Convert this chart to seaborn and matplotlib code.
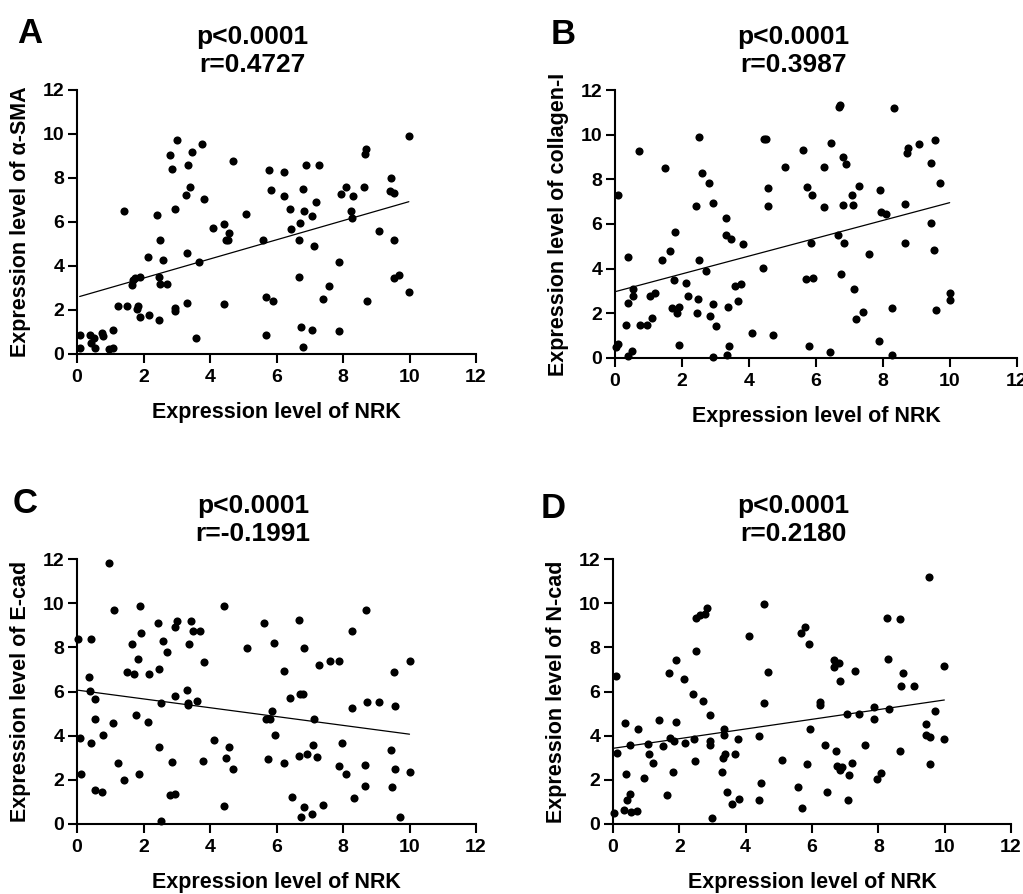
import matplotlib
matplotlib.use("Agg")
import matplotlib.pyplot as plt
import seaborn as sns

# Panel A: NRK vs alpha-SMA
a_x = [3.01, 3.77, 2.79, 3.46, 2.85, 3.35, 4.68, 5.78, 5.84, 3.39,
       3.29, 3.81, 2.94, 1.40, 2.42, 5.08, 4.09, 4.42, 4.57, 4.47,
       4.55, 5.58, 2.51, 2.14, 2.59, 3.31, 3.66, 1.68, 1.75, 1.90,
       1.64, 2.47, 2.51, 2.71, 1.22, 1.50, 1.84, 1.80, 1.89, 2.18,
       2.46, 2.94, 2.94, 3.32, 4.42, 5.69, 5.89, 3.59, 5.69, 0.08,
       0.38, 0.50, 0.75, 0.77, 1.08, 0.10, 0.42, 0.55, 0.95, 1.08,
       9.98, 8.69, 8.66, 6.23, 6.90, 7.28, 9.45, 6.79, 6.23, 8.09,
       7.94, 8.31, 8.64, 9.41, 9.54, 6.42, 6.82, 7.20, 7.06, 6.71,
       6.45, 8.25, 8.27, 6.68, 7.13, 9.07, 9.52, 7.88, 6.68, 7.58,
       7.39, 9.54, 9.69, 9.98, 8.72, 6.73, 7.08, 7.87, 6.81]
a_y = [9.73, 9.56, 9.04, 9.16, 8.42, 8.59, 8.78, 8.38, 7.47, 7.58,
       7.25, 7.04, 6.57, 6.50, 6.32, 6.38, 5.74, 5.92, 5.49, 5.19,
       5.17, 5.17, 5.19, 4.39, 4.29, 4.57, 4.20, 3.38, 3.46, 3.49,
       3.13, 3.52, 3.20, 3.19, 2.18, 2.18, 2.20, 2.06, 1.68, 1.79,
       1.53, 2.09, 1.95, 2.30, 2.29, 2.59, 2.41, 0.74, 0.86, 0.86,
       0.86, 0.75, 0.96, 0.81, 1.08, 0.26, 0.48, 0.26, 0.21, 0.26,
       9.91, 9.34, 9.08, 8.29, 8.57, 8.57, 8.00, 7.49, 7.17, 7.59,
       7.28, 7.17, 7.61, 7.40, 7.34, 6.59, 6.50, 6.92, 6.29, 5.97,
       5.67, 6.50, 6.20, 5.17, 4.90, 5.59, 5.17, 4.17, 3.49, 3.08,
       2.48, 3.44, 3.61, 2.83, 2.39, 1.22, 1.07, 1.05, 0.32]

# Panel B: NRK vs collagen-I
b_x = [2.52, 0.73, 1.49, 2.59, 2.80, 0.08, 2.41, 2.94, 3.30, 3.30,
       3.46, 3.82, 1.79, 1.64, 1.39, 0.40, 2.52, 2.71, 4.45, 4.50,
       5.08, 5.60, 4.56, 4.57, 5.72, 5.87, 5.85, 4.43, 5.70, 5.92,
       5.80, 0.54, 0.55, 0.40, 1.05, 1.19, 0.32, 0.75, 0.96, 1.09,
       1.75, 2.13, 2.18, 1.69, 1.91, 1.84, 2.47, 2.45, 2.85, 2.94,
       3.01, 3.36, 3.58, 3.76, 3.66, 4.09, 4.71, 0.10, 0.02, 0.38,
       0.52, 1.90, 2.94, 3.33, 3.40,
       6.69, 6.72, 8.32, 6.46, 6.80, 6.91, 6.24, 8.74, 8.71, 9.08,
       9.55, 9.43, 9.71, 7.28, 7.07, 6.81, 7.09, 6.24, 7.90, 7.94,
       8.10, 8.65, 9.44, 6.67, 6.83, 7.59, 8.65, 9.52, 6.74, 7.12,
       7.40, 7.19, 8.26, 9.57, 9.99, 9.99, 7.88, 8.27, 6.41]
b_y = [9.88, 9.27, 8.52, 8.27, 7.85, 7.28, 6.82, 6.92, 6.28, 5.49,
       5.34, 5.11, 5.65, 4.78, 4.39, 4.51, 4.39, 3.89, 9.82, 9.82,
       8.57, 9.31, 7.62, 6.79, 7.67, 7.29, 5.17, 4.05, 3.54, 3.60,
       0.55, 3.08, 2.77, 2.48, 2.77, 2.93, 1.46, 1.46, 1.46, 1.79,
       3.48, 3.35, 2.77, 2.26, 2.29, 2.03, 2.63, 2.03, 1.88, 2.44,
       1.45, 2.30, 3.24, 3.30, 2.56, 1.14, 1.05, 0.64, 0.49, 0.10,
       0.30, 0.60, 0.04, 0.12, 0.54,
       11.26, 11.32, 11.20, 9.64, 9.00, 8.67, 8.57, 9.39, 9.16, 9.57,
       9.76, 8.71, 7.82, 7.70, 7.28, 6.86, 6.83, 6.77, 7.52, 6.55,
       6.47, 6.91, 6.04, 5.49, 5.17, 4.65, 5.17, 4.84, 3.77, 3.11,
       2.05, 1.73, 2.26, 2.15, 2.93, 2.60, 0.78, 0.12, 0.25]

# Panel C: NRK vs E-cad
c_x = [0.96, 1.11, 1.90, 4.43, 5.61, 5.91, 5.11, 0.04, 0.43, 1.92,
       1.65, 2.43, 3.02, 2.96, 3.42, 3.48, 3.69, 3.37, 2.60, 2.71,
       1.82, 3.83, 1.51, 1.72, 2.18, 2.46, 0.35, 0.39, 0.54, 3.31,
       2.95, 3.34, 3.34, 3.60, 2.52, 5.87, 5.69, 5.79, 5.95, 0.55,
       1.09, 1.77, 2.14, 0.10, 0.41, 0.78, 2.48, 4.11, 4.57, 4.48,
       4.70, 3.78, 2.86, 5.73, 1.24, 1.42, 1.87, 0.12, 0.53, 0.75,
       2.79, 2.95, 4.43, 2.52,
       6.68, 8.70, 8.27, 6.83, 7.29, 7.60, 7.88, 6.24, 9.53, 10.0,
       6.41, 6.72, 6.81, 8.26, 8.72, 9.08, 9.56, 7.14, 7.10, 6.68,
       6.91, 7.22, 6.24, 7.96, 7.89, 8.10, 8.65, 8.65, 9.44, 9.55,
       10.0, 9.46, 6.46, 6.82, 6.74, 7.08, 7.41, 8.32, 9.72]
c_y = [11.80, 9.68, 9.88, 9.85, 9.08, 8.19, 7.99, 8.38, 8.37, 8.63,
       8.16, 9.12, 9.18, 8.90, 9.18, 8.72, 8.72, 8.17, 8.29, 7.79,
       7.48, 7.34, 6.90, 6.78, 6.78, 7.04, 6.66, 6.01, 5.65, 6.07,
       5.79, 5.50, 5.39, 5.56, 5.48, 5.12, 4.77, 4.77, 4.03, 4.77,
       4.56, 4.94, 4.64, 3.88, 3.67, 4.02, 3.50, 3.79, 3.47, 2.98,
       2.48, 2.85, 2.79, 2.95, 2.76, 1.99, 2.28, 2.27, 1.56, 1.44,
       1.30, 1.37, 0.80, 0.12,
       9.23, 9.71, 8.76, 7.95, 7.22, 7.39, 7.40, 6.92, 6.87, 7.36,
       5.71, 5.88, 5.88, 5.26, 5.51, 5.51, 5.33, 4.76, 3.60, 3.08,
       3.17, 3.02, 2.78, 3.67, 2.63, 2.27, 2.69, 1.74, 3.35, 2.49,
       2.36, 1.68, 1.21, 0.79, 0.30, 0.47, 0.88, 1.16, 0.33]

# Panel D: NRK vs N-cad
d_x = [4.54, 2.84, 2.76, 2.61, 2.50, 4.09, 5.78, 5.68, 5.90, 2.51,
       1.89, 1.70, 2.13, 4.68, 0.10, 2.41, 2.70, 4.56, 2.93, 0.37,
       1.40, 1.90, 0.76, 3.35, 3.35, 5.93, 0.52, 1.07, 1.73, 1.84,
       1.50, 2.17, 2.44, 2.92, 2.92, 3.77, 4.41, 0.11, 1.08, 1.22,
       3.31, 3.39, 3.67, 2.46, 5.09, 5.84, 0.39, 0.94, 1.81, 3.28,
       4.46, 5.59, 0.51, 0.41, 1.63, 3.45, 3.59, 3.81, 4.41, 5.70,
       0.03, 0.33, 0.54, 0.72, 2.99,
       9.53, 8.27, 8.66, 8.28, 6.67, 6.80, 6.67, 7.29, 6.83, 8.73,
       8.69, 9.08, 9.99, 6.23, 6.23, 7.06, 7.41, 7.88, 7.88, 8.33,
       9.71, 9.44, 9.44, 9.56, 9.99, 6.40, 6.72, 7.59, 8.65, 6.75,
       6.83, 6.91, 7.21, 7.13, 8.09, 7.95, 9.56, 6.45, 7.09]
d_y = [9.94, 9.76, 9.49, 9.46, 9.34, 8.52, 8.90, 8.67, 8.16, 7.85,
       7.42, 6.84, 6.57, 6.89, 6.71, 5.88, 5.59, 5.50, 4.95, 4.56,
       4.70, 4.61, 4.29, 4.29, 4.05, 4.29, 3.56, 3.61, 3.90, 3.76,
       3.52, 3.67, 3.84, 3.76, 3.56, 3.87, 3.97, 3.20, 3.17, 2.76,
       3.01, 3.17, 3.19, 2.84, 2.90, 2.72, 2.27, 2.08, 2.37, 2.37,
       1.87, 1.69, 1.37, 1.07, 1.31, 1.47, 0.92, 1.15, 1.07, 0.73,
       0.48, 0.62, 0.54, 0.59, 0.27,
       11.19, 9.34, 9.29, 7.49, 7.43, 7.31, 7.13, 6.92, 6.48, 6.86,
       6.27, 6.27, 7.16, 5.53, 5.38, 4.97, 4.97, 5.30, 4.77, 5.23,
       5.12, 4.55, 4.05, 3.96, 3.84, 3.58, 3.31, 3.58, 3.31, 2.63,
       2.43, 2.58, 2.78, 2.22, 2.31, 2.02, 2.73, 1.44, 1.10]

letters = ["A", "B", "C", "D"]
y_labels = ["Expression level of α-SMA", "Expression level of collagen-I",
            "Expression level of E-cad", "Expression level of N-cad"]
titles = ["p<0.0001\nr=0.4727", "p<0.0001\nr=0.3987",
          "p<0.0001\nr=-0.1991", "p<0.0001\nr=0.2180"]
x_label = "Expression level of NRK"
ticks = [0, 2, 4, 6, 8, 10, 12]

sns.set_style("ticks")
plt.rcParams["font.family"] = ["Liberation Sans", "DejaVu Sans"]
plt.rcParams["font.weight"] = "bold"
for key in ["text.color", "axes.labelcolor", "axes.edgecolor",
            "xtick.color", "ytick.color"]:
    plt.rcParams[key] = "black"

W, H = 1023, 894
fig = plt.figure(figsize=(W / 100, H / 100), dpi=100)

# axes boxes in pixels: left, top, right, bottom
boxes = [(77, 90, 476, 354), (615, 90, 1017, 358),
         (77, 559, 476, 824), (613, 559, 1011, 824)]
title_x = [252, 793, 253, 793]
letter_pos = [(17, 43), (551, 44), (13, 513), (541, 518)]
data = [(a_x, a_y), (b_x, b_y), (c_x, c_y), (d_x, d_y)]

for i, (xs, ys) in enumerate(data):
    l, t, r, b = boxes[i]
    ax = fig.add_axes([l / W, 1 - b / H, (r - l) / W, (b - t) / H])
    sns.regplot(x=xs, y=ys, ax=ax, ci=None, color="black",
                scatter_kws=dict(s=34, linewidths=0, alpha=1, clip_on=False),
                line_kws=dict(lw=0.9))
    ax.set_xlim(0, 12)
    ax.set_ylim(0, 12)
    ax.set_xticks(ticks)
    ax.set_yticks(ticks)
    sns.despine(ax=ax)
    for s in ["left", "bottom"]:
        ax.spines[s].set_linewidth(1.5)
    ax.tick_params(width=1.5, length=6.5, labelsize=14)
    ax.tick_params(axis="x", pad=4)
    ax.tick_params(axis="y", pad=2.5)
    ax.set_xlabel(x_label, fontsize=15.5, fontweight="bold")
    ax.set_ylabel(y_labels[i], fontsize=15.5, fontweight="bold")
    ax.xaxis.set_label_coords(0.5, -48 / (b - t))
    ax.yaxis.set_label_coords(-46 / (r - l), 0.5)

    # last line baseline sits 18 px above the axes
    fig.text(title_x[i] / W, 1 - (t - 18) / H, titles[i], ha="center",
             va="baseline", fontsize=19, fontweight="bold", linespacing=1.22)
    lx, ly = letter_pos[i]
    fig.text(lx / W, 1 - ly / H, letters[i], ha="left", va="baseline",
             fontsize=25, fontweight="bold")

fig.savefig("out.png", dpi=100)
